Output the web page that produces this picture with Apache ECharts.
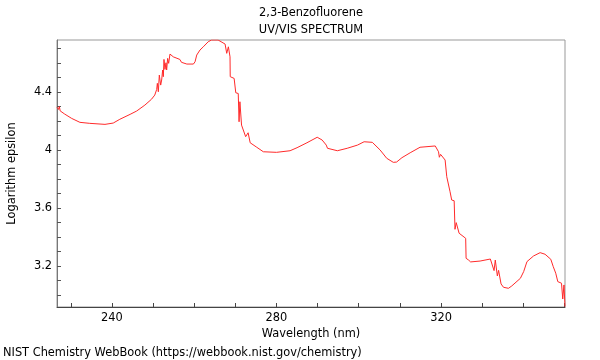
<!DOCTYPE html>
<html>
<head>
<meta charset="utf-8">
<script src="https://cdn.jsdelivr.net/npm/echarts@6/dist/echarts.min.js"></script>
<style>html,body{margin:0;padding:0;background:#fff}#c{width:600px;height:360px}</style>
</head>
<body>
<div id="c"></div>
<script>
const titleLines = ['2,3-Benzofluorene', 'UV/VIS SPECTRUM'];
const xName = 'Wavelength (nm)';
const yName = 'Logarithm epsilon';
const footer = 'NIST Chemistry WebBook (https://webbook.nist.gov/chemistry)';
const xRange = [226.63, 350.15];
const yRange = [2.917, 4.759];

const wavelength = [
226.63,226.8,227.0,227.2,227.4,228.5,230.2,232.2,234.6,238.3,240.3,241.9,244.4,246.0,248.0,249.6,250.4,
250.87,251.03,251.27,251.51,251.84,252.08,252.32,252.48,252.64,252.89,253.13,253.29,253.53,253.78,254.1,254.27,
254.9,256.5,256.9,258.2,259.8,260.2,260.6,261.4,262.2,263.4,264.2,265.8,267.5,267.9,268.3,268.7,268.75,
269.7,270.0,270.1,270.7,270.9,271.1,271.5,271.9,272.5,273.1,273.6,275.2,276.8,280.0,283.3,285.0,287.4,
289.9,291.1,292.1,292.4,294.8,297.2,299.7,301.3,303.3,305.2,306.8,308.4,309.2,310.5,312.5,314.9,318.6,
319.4,319.6,319.9,321.0,321.4,322.2,322.6,323.2,323.4,323.7,324.4,326.0,326.1,326.7,327.2,329.5,332.0,
332.9,333.2,333.7,334.0,334.6,335.2,336.4,337.2,339.3,340.1,340.9,342.5,344.1,345.3,346.7,347.3,347.9,
348.4,349.3,349.6,349.9,350.15
];
const logEps = [
4.295,4.30,4.28,4.30,4.27,4.248,4.218,4.191,4.184,4.177,4.186,4.212,4.246,4.269,4.31,4.35,4.379,
4.418,4.46,4.402,4.517,4.448,4.483,4.552,4.506,4.625,4.556,4.602,4.552,4.632,4.598,4.662,4.667,
4.643,4.625,4.605,4.593,4.593,4.609,4.655,4.69,4.712,4.747,4.759,4.759,4.731,4.667,4.712,4.643,4.506,
4.494,4.483,4.395,4.39,4.195,4.333,4.172,4.161,4.092,4.119,4.05,4.019,3.988,3.984,3.995,4.016,4.05,
4.088,4.069,4.034,4.012,3.995,4.012,4.034,4.057,4.053,4.0,3.943,3.915,3.917,3.947,3.981,4.019,4.028,
3.988,3.95,3.97,3.931,3.816,3.712,3.655,3.65,3.453,3.499,3.426,3.391,3.253,3.241,3.228,3.234,3.248,
3.168,3.241,3.131,3.17,3.076,3.053,3.046,3.062,3.115,3.161,3.23,3.269,3.292,3.281,3.246,3.195,3.15,
3.092,3.081,2.972,3.069,2.92
];
const xLabelStep = 40;   // labelled every 40 nm, ticks every 10
const yLabelStep = 0.4;  // labelled every 0.4, ticks every 0.1

const fs = 11.4;
const font = '"DejaVu Sans", sans-serif';
const chart = echarts.init(document.getElementById('c'), null, {renderer: 'canvas'});
const pts = wavelength.map((w, i) => [w, logEps[i]]);

chart.setOption({
  animation: false,
  backgroundColor: '#fff',
  grid: {left: 57, right: 35, top: 40, bottom: 53, show: true, borderColor: '#999', borderWidth: 1,
         backgroundColor: 'transparent', containLabel: false, outerBoundsMode: 'none'},
  graphic: [
    {type: 'text', x: 311, y: 13, style: {text: titleLines[0], font: fs + 'px ' + font, fill: '#000', align: 'center', verticalAlign: 'middle'}},
    {type: 'text', x: 311, y: 30, style: {text: titleLines[1], font: fs + 'px ' + font, fill: '#000', align: 'center', verticalAlign: 'middle'}},
    {type: 'text', x: 3, y: 353, style: {text: footer, font: fs + 'px ' + font, fill: '#000', align: 'left', verticalAlign: 'middle'}}
  ],
  xAxis: {
    type: 'value', min: xRange[0], max: xRange[1], splitNumber: 12,
    name: xName, nameLocation: 'middle', nameGap: 17,
    nameTextStyle: {fontFamily: 'DejaVu Sans', fontSize: fs, color: '#000'},
    axisLine: {show: true, lineStyle: {color: '#444', width: 1}},
    axisTick: {show: true, inside: true, length: 4, lineStyle: {color: '#444'}},
    splitLine: {show: false},
    axisLabel: {
      margin: 6, fontFamily: 'DejaVu Sans', fontSize: fs, color: '#000',
      showMinLabel: false, showMaxLabel: false,
      formatter: v => (Math.abs(v / xLabelStep - Math.round(v / xLabelStep)) < 1e-6) ? String(Math.round(v)) : ''
    }
  },
  yAxis: {
    type: 'value', min: yRange[0], max: yRange[1], splitNumber: 18,
    name: yName, nameLocation: 'middle', nameGap: 39,
    nameTextStyle: {fontFamily: 'DejaVu Sans', fontSize: fs, color: '#000'},
    axisLine: {show: true, lineStyle: {color: '#777', width: 1}},
    axisTick: {show: true, inside: true, length: 4, lineStyle: {color: '#555'}},
    splitLine: {show: false},
    axisLabel: {
      margin: 5, fontFamily: 'DejaVu Sans', fontSize: fs, color: '#000',
      showMinLabel: false, showMaxLabel: false,
      formatter: v => {
        const r = v / yLabelStep;
        return Math.abs(r - Math.round(r)) < 1e-6 ? String(Math.round(v * 10) / 10) : '';
      }
    }
  },
  series: [{
    type: 'line', data: pts, showSymbol: false, symbol: 'none', clip: true,
    lineStyle: {color: '#ff2a2a', width: 1}, silent: true
  }]
});
</script>
</body>
</html>
